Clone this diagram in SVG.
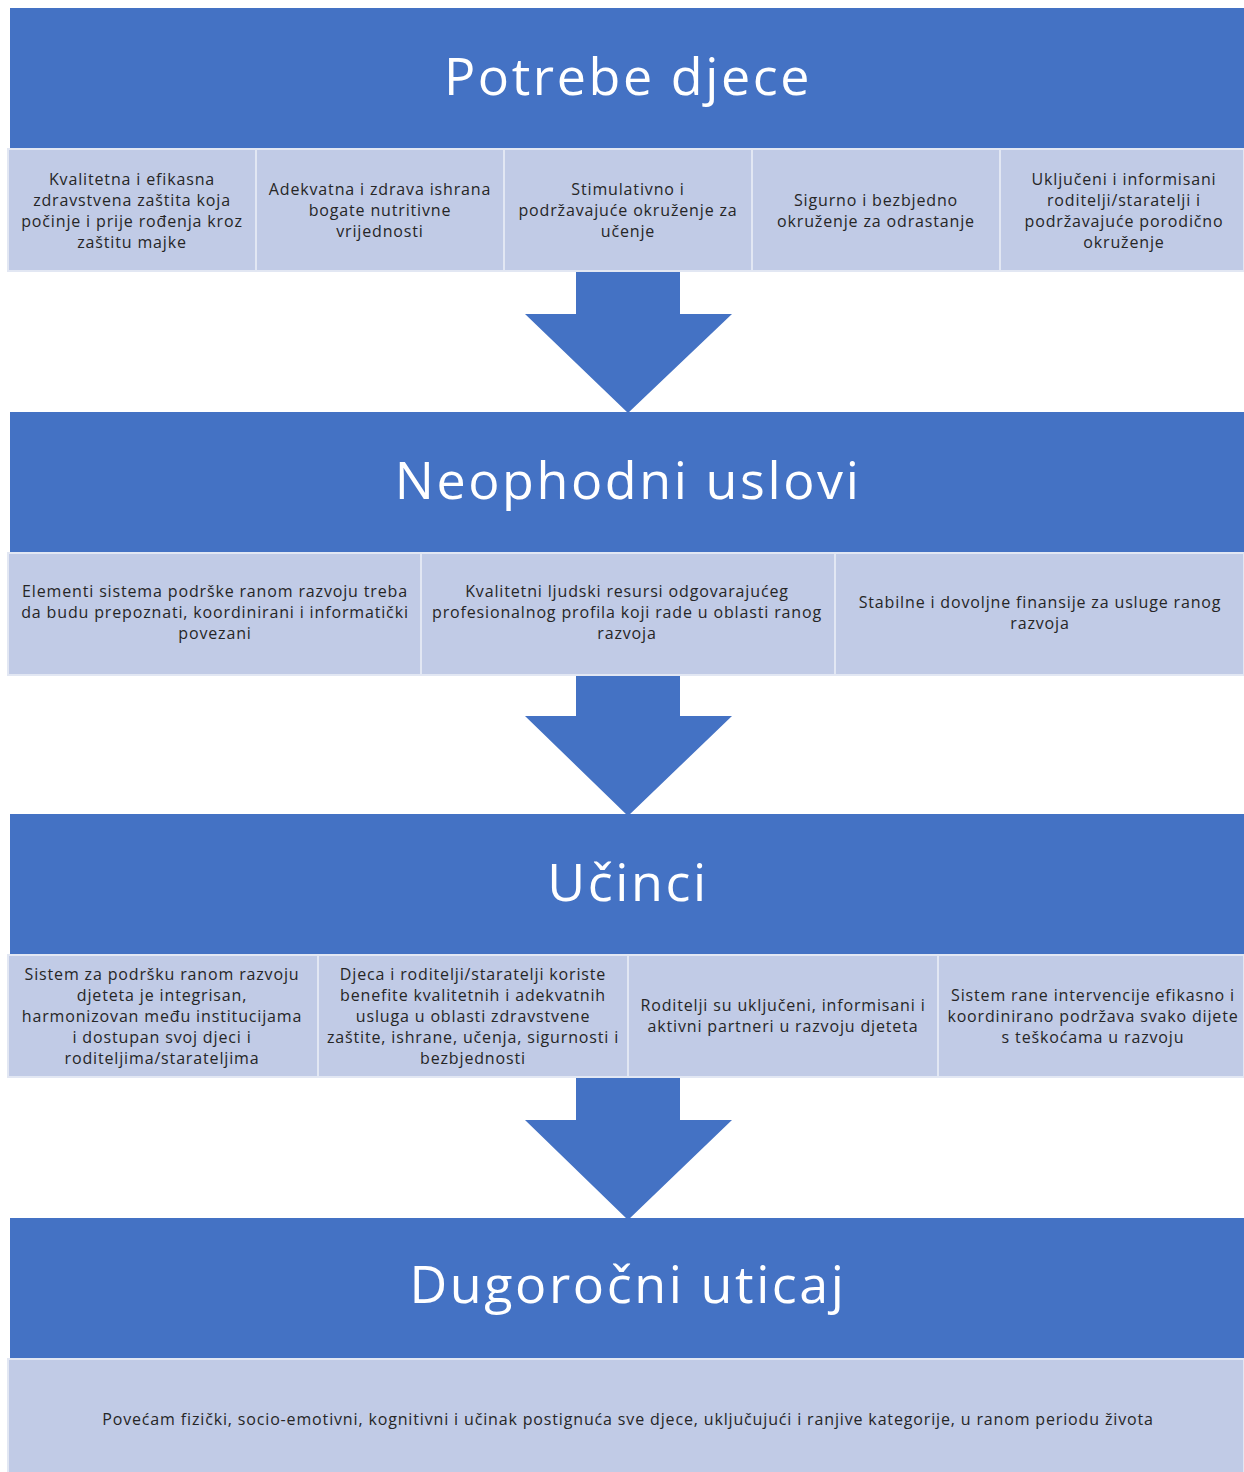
<svg xmlns="http://www.w3.org/2000/svg" width="1244" height="1472" viewBox="0 0 1244 1472">
<style>
.hdr{fill:#4472C4}
.cell{fill:#C1CBE6;stroke:#E2E7F3;stroke-width:2}
.arrow{fill:#4472C4}
.ht{font-family:"Open Sans","Liberation Sans",sans-serif;font-size:52px;letter-spacing:2.6px;fill:#FFFFFF;text-anchor:middle}
.ct{font-family:"Open Sans","Liberation Sans",sans-serif;font-size:16px;letter-spacing:0.85px;fill:#262626;text-anchor:middle;dominant-baseline:central}
</style>
<rect width="1244" height="1472" fill="#FFFFFF"/>
<g id="connectors">
<path class="arrow" d="M576 272 H680 V314 H732 L628 413 L525 314 H576 Z"/>
<path class="arrow" d="M576 676 H680 V716 H732 L628 816 L525 716 H576 Z"/>
<path class="arrow" d="M576 1078 H680 V1120 H732 L628 1220 L525 1120 H576 Z"/>
</g>
<g id="potrebe">
<rect class="hdr" x="10" y="8" width="1234" height="140"/>
<text class="ht" x="628" y="95">Potrebe djece</text>
</g>
<g id="p1"><rect class="cell" x="8" y="149" width="248" height="122"/>
<text class="ct"><tspan x="132" y="179">Kvalitetna i efikasna</tspan><tspan x="132" y="200">zdravstvena zaštita koja</tspan><tspan x="132" y="221">počinje i prije rođenja kroz</tspan><tspan x="132" y="242">zaštitu majke</tspan></text></g>
<g id="p2"><rect class="cell" x="256" y="149" width="248" height="122"/>
<text class="ct"><tspan x="380" y="189">Adekvatna i zdrava ishrana</tspan><tspan x="380" y="210">bogate nutritivne</tspan><tspan x="380" y="231">vrijednosti</tspan></text></g>
<g id="p3"><rect class="cell" x="504" y="149" width="248" height="122"/>
<text class="ct"><tspan x="628" y="189">Stimulativno i</tspan><tspan x="628" y="210">podržavajuće okruženje za</tspan><tspan x="628" y="231">učenje</tspan></text></g>
<g id="p4"><rect class="cell" x="752" y="149" width="248" height="122"/>
<text class="ct"><tspan x="876" y="200">Sigurno i bezbjedno</tspan><tspan x="876" y="221">okruženje za odrastanje</tspan></text></g>
<g id="p5"><rect class="cell" x="1000" y="149" width="244" height="122"/>
<text class="ct"><tspan x="1124" y="179">Uključeni i informisani</tspan><tspan x="1124" y="200">roditelji/staratelji i</tspan><tspan x="1124" y="221">podržavajuće porodično</tspan><tspan x="1124" y="242">okruženje</tspan></text></g>

<g id="neophodni">
<rect class="hdr" x="10" y="412" width="1234" height="140"/>
<text class="ht" x="628" y="499">Neophodni uslovi</text>
</g>
<g id="n1"><rect class="cell" x="8" y="553" width="413" height="122"/>
<text class="ct"><tspan x="215" y="591">Elementi sistema podrške ranom razvoju treba</tspan><tspan x="215" y="612">da budu prepoznati, koordinirani i informatički</tspan><tspan x="215" y="633">povezani</tspan></text></g>
<g id="n2"><rect class="cell" x="421" y="553" width="414" height="122"/>
<text class="ct"><tspan x="627" y="591">Kvalitetni ljudski resursi odgovarajućeg</tspan><tspan x="627" y="612">profesionalnog profila koji rade u oblasti ranog</tspan><tspan x="627" y="633">razvoja</tspan></text></g>
<g id="n3"><rect class="cell" x="835" y="553" width="409" height="122"/>
<text class="ct"><tspan x="1040" y="602">Stabilne i dovoljne finansije za usluge ranog</tspan><tspan x="1040" y="623">razvoja</tspan></text></g>

<g id="ucinci">
<rect class="hdr" x="10" y="814" width="1234" height="140"/>
<text class="ht" x="628" y="901">Učinci</text>
</g>
<g id="u1"><rect class="cell" x="8" y="955" width="310" height="122"/>
<text class="ct"><tspan x="162" y="974">Sistem za podršku ranom razvoju</tspan><tspan x="162" y="995">djeteta je integrisan,</tspan><tspan x="162" y="1016">harmonizovan među institucijama</tspan><tspan x="162" y="1037">i dostupan svoj djeci i</tspan><tspan x="162" y="1058">roditeljima/starateljima</tspan></text></g>
<g id="u2"><rect class="cell" x="318" y="955" width="310" height="122"/>
<text class="ct"><tspan x="473" y="974">Djeca i roditelji/staratelji koriste</tspan><tspan x="473" y="995">benefite kvalitetnih i adekvatnih</tspan><tspan x="473" y="1016">usluga u oblasti zdravstvene</tspan><tspan x="473" y="1037">zaštite, ishrane, učenja, sigurnosti i</tspan><tspan x="473" y="1058">bezbjednosti</tspan></text></g>
<g id="u3"><rect class="cell" x="628" y="955" width="310" height="122"/>
<text class="ct"><tspan x="783" y="1005">Roditelji su uključeni, informisani i</tspan><tspan x="783" y="1026">aktivni partneri u razvoju djeteta</tspan></text></g>
<g id="u4"><rect class="cell" x="938" y="955" width="306" height="122"/>
<text class="ct"><tspan x="1093" y="995">Sistem rane intervencije efikasno i</tspan><tspan x="1093" y="1016">koordinirano podržava svako dijete</tspan><tspan x="1093" y="1037">s teškoćama u razvoju</tspan></text></g>

<g id="dugorocni">
<rect class="hdr" x="10" y="1218" width="1234" height="140"/>
<text class="ht" x="628" y="1303">Dugoročni uticaj</text>
</g>
<g id="d1"><rect class="cell" x="8" y="1359" width="1236" height="115"/>
<text class="ct" x="628" y="1419">Povećam fizički, socio-emotivni, kognitivni i učinak postignuća sve djece, uključujući i ranjive kategorije, u ranom periodu života</text></g>
</svg>
